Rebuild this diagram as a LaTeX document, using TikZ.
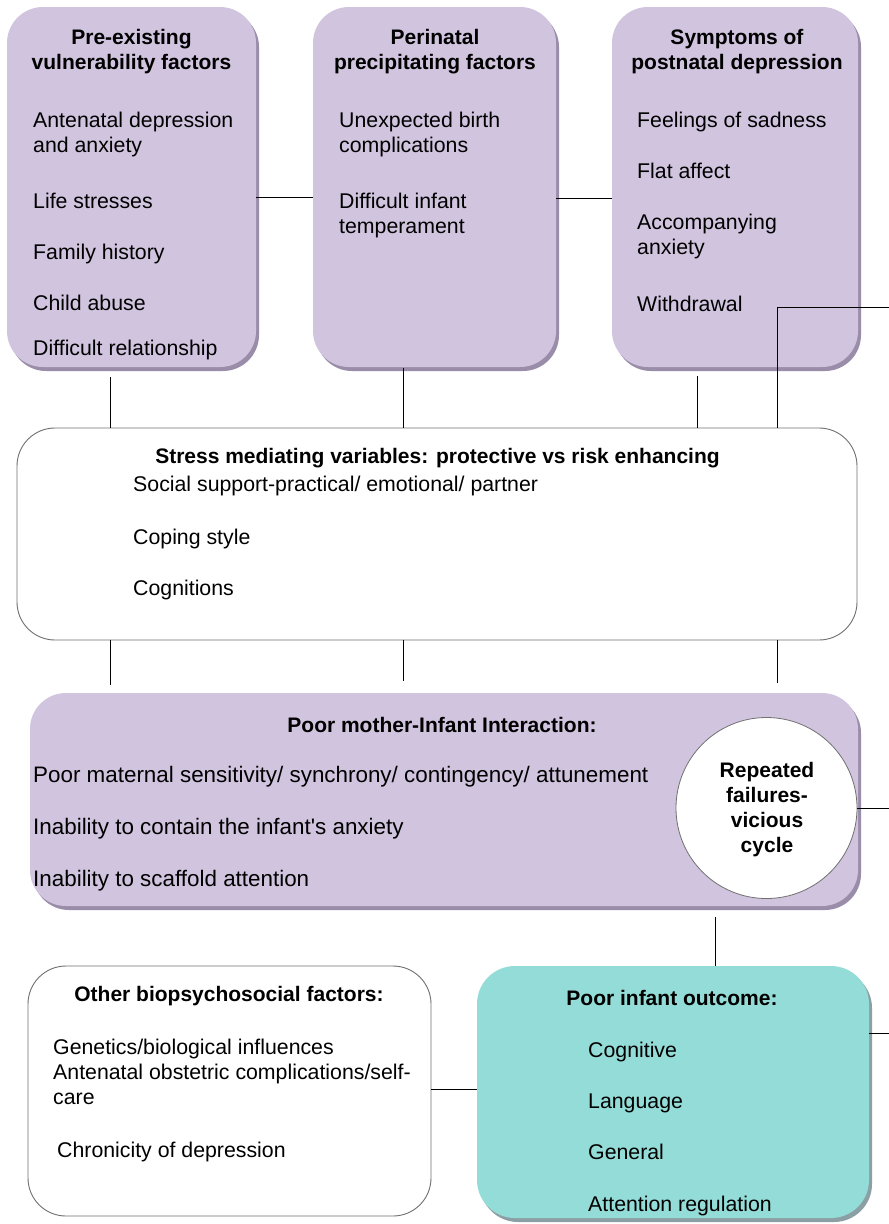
\documentclass[tikz,border=0pt]{standalone}
\usepackage{fontspec}
\setmainfont{Liberation Sans}
\usetikzlibrary{shadows,calc}
\definecolor{purp}{HTML}{D0C4DE}
\definecolor{purpsh}{HTML}{9A8DAA}
\definecolor{tealbox}{HTML}{94DCD7}
\definecolor{tealsh}{HTML}{8C9FA5}
\definecolor{boxline}{HTML}{707070}
\begin{document}
\begin{tikzpicture}[x=1pt,y=-1pt,
  pbox/.style={rectangle, rounded corners=36pt, fill=purp, draw=none,
    drop shadow={shadow xshift=3pt, shadow yshift=-4pt, fill=purpsh, opacity=1}},
  tbox/.style={rectangle, rounded corners=38pt, fill=tealbox, draw=none,
    drop shadow={shadow xshift=3pt, shadow yshift=-4pt, fill=tealsh, opacity=1}},
  wbox/.style={rectangle, rounded corners=38pt, fill=white, draw=boxline, line width=0.9pt},
  cyc/.style={circle, fill=white, draw=boxline, line width=0.8pt, inner sep=0pt},
  txt/.style={anchor=west, inner sep=0pt, font=\fontsize{21.3}{25}\selectfont, text height=15pt, text depth=0pt},
  bigtxt/.style={txt, font=\fontsize{22.4}{26}\selectfont},
  ttl/.style={anchor=center, inner sep=0pt, font=\bfseries\fontsize{21}{25}\selectfont, align=center},
  wire/.style={draw=black, line width=0.9pt}
]
\path[use as bounding box, fill=white] (0,0) rectangle (889,1224);

% boxes
\node[pbox, minimum width=249pt, minimum height=360pt] (b1) at (131.5,187) {};
\node[pbox, minimum width=243pt, minimum height=360pt] (b2) at (434.5,187) {};
\node[pbox, minimum width=246pt, minimum height=360pt] (b3) at (735,187) {};
\node[wbox, minimum width=840pt, minimum height=212pt] (stress) at (437,534) {};
\node[pbox, minimum width=828pt, minimum height=213pt] (mother) at (444,799.5) {};
\node[cyc, minimum size=181pt] (cycle) at (766.5,808) {};
\node[wbox, minimum width=403pt, minimum height=250pt] (other) at (229.5,1091) {};
\node[tbox, minimum width=392pt, minimum height=252pt] (outcome) at (673,1092) {};

% free ends at right edge
\coordinate (r1) at (889,307);
\coordinate (r2) at (889,808);
\coordinate (r3) at (889,1033);

% box 1
\node[ttl] (t1) at (131.5,51.5) {Pre-existing\\vulnerability factors};
\node[txt] (a1) at (33,120) {Antenatal depression};
\node[txt] (a2) at (33,145) {and anxiety};
\node[txt] (a3) at (33,201) {Life stresses};
\node[txt] (a4) at (33,252) {Family history};
\node[txt] (a5) at (33,303) {Child abuse};
\node[txt] (a6) at (33,348) {Difficult relationship};

% box 2
\node[ttl] (t2) at (435,51.5) {Perinatal\\precipitating factors};
\node[txt] (p1) at (339,120) {Unexpected birth};
\node[txt] (p2) at (339,145) {complications};
\node[txt] (p3) at (339,201) {Difficult infant};
\node[txt] (p4) at (339,226) {temperament};

% box 3
\node[ttl] (t3) at (737,51.5) {Symptoms of\\postnatal depression};
\node[txt] (s1) at (637,120) {Feelings of sadness};
\node[txt] (s2) at (637,171) {Flat affect};
\node[txt] (s3) at (637,222) {Accompanying};
\node[txt] (s4) at (637,247) {anxiety};
\node[txt] (s5) at (637,304) {Withdrawal};

% stress box
\node[ttl] (t4) at (437.5,458) {Stress mediating variables: protective vs risk enhancing};
\node[txt] (m1) at (133,484) {Social support-practical/ emotional/ partner};
\node[txt] (m2) at (133,537) {Coping style};
\node[txt] (m3) at (133,588) {Cognitions};

% mother box
\node[ttl] (t5) at (442,725) {Poor mother-Infant Interaction:};
\node[bigtxt] (i1) at (33,775) {Poor maternal sensitivity/ synchrony/ contingency/ attunement};
\node[bigtxt] (i2) at (33,827) {Inability to contain the infant\textquotesingle s anxiety};
\node[bigtxt] (i3) at (33,879) {Inability to scaffold attention};
\node[ttl] (t6) at (767,809.5) {Repeated\\failures-\\vicious\\cycle};

% other box
\node[ttl] (t7) at (229,996) {Other biopsychosocial factors:};
\node[txt] (o1) at (53,1047) {Genetics/biological influences};
\node[txt] (o2) at (53,1072) {Antenatal obstetric complications/self-};
\node[txt] (o3) at (53,1097) {care};
\node[txt] (o4) at (57,1150) {Chronicity of depression};

% outcome box
\node[ttl] (t8) at (672,998) {Poor infant outcome:};
\node[txt] (u1) at (588,1050) {Cognitive};
\node[txt] (u2) at (588,1101) {Language};
\node[txt] (u3) at (588,1152) {General};
\node[txt] (u4) at (588,1204) {Attention regulation};

% connectors
\draw[wire] ([yshift=-10pt]b1.east) -- ([yshift=-10pt]b2.west);
\draw[wire] ([yshift=-11pt]b2.east) -- ([yshift=-11pt]b3.west);
\draw[wire] (r1) -| ($(stress.north)+(340,0)$);
\draw[wire] ($(b1.south)+(-21.5,10)$) -- ($(b1.south)+(-21.5,61)$);
\draw[wire] ($(b2.south)+(-31.5,1)$) -- ($(b2.south)+(-31.5,61)$);
\draw[wire] ($(b3.south)+(-38,9)$) -- ($(b3.south)+(-38,61)$);
\draw[wire] ($(stress.south)+(-327,0)$) -- ($(stress.south)+(-327,45)$);
\draw[wire] ($(stress.south)+(-34,0)$) -- ($(stress.south)+(-34,41)$);
\draw[wire] ($(stress.south)+(340,0)$) -- ($(stress.south)+(340,43)$);
\draw[wire] (cycle.east) -- (r2);
\draw[wire] ($(mother.south)+(271,11)$) -- ($(outcome.north)+(42,0)$);
\draw[wire] ([yshift=2pt]other.east) -- ([yshift=3pt]outcome.west);
\draw[wire] ($(outcome.east)+(0,-59)$) -- (r3);
\end{tikzpicture}
\end{document}
